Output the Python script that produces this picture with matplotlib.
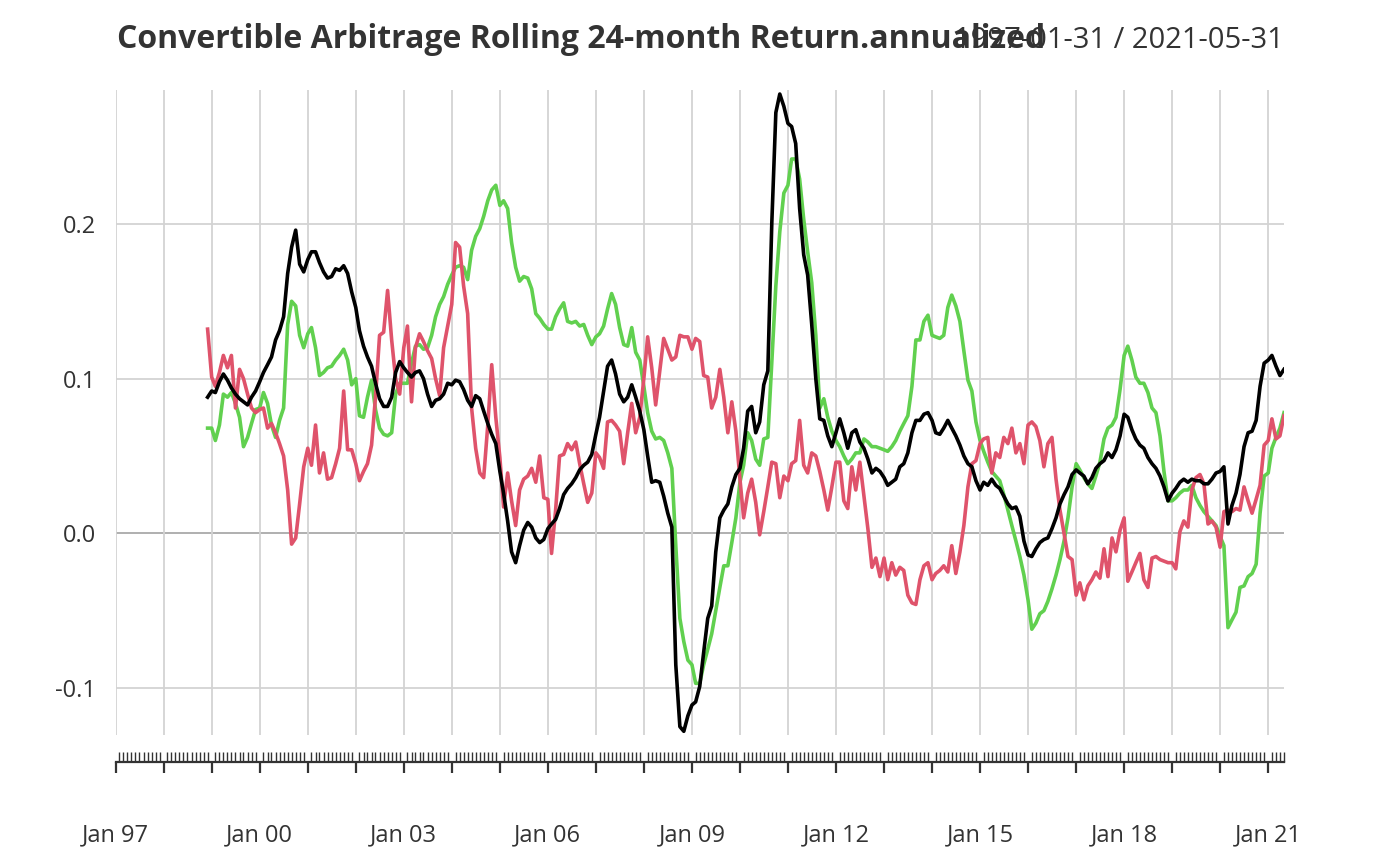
import numpy as np
import pandas as pd
import matplotlib
matplotlib.use('Agg')
import matplotlib.pyplot as plt
from matplotlib.ticker import FixedLocator, FuncFormatter
import matplotlib.dates as mdates

# Retorno anualizado em janela móvel de 24 meses (Dez/1998 a Mai/2021)
convertible_arbitrage = [
    0.088,
    0.092, 0.091, 0.098, 0.103, 0.099, 0.094, 0.090, 0.087, 0.085, 0.083, 0.088, 0.092,  # 1999
    0.098, 0.104, 0.109, 0.114, 0.125, 0.131, 0.140, 0.168, 0.185, 0.196, 0.174, 0.169,  # 2000
    0.177, 0.182, 0.182, 0.175, 0.169, 0.165, 0.166, 0.171, 0.170, 0.173, 0.168, 0.156,  # 2001
    0.146, 0.131, 0.121, 0.114, 0.108, 0.097, 0.087, 0.082, 0.082, 0.088, 0.104, 0.111,  # 2002
    0.107, 0.104, 0.101, 0.104, 0.105, 0.100, 0.090, 0.082, 0.086, 0.087, 0.090, 0.097,  # 2003
    0.096, 0.099, 0.098, 0.093, 0.086, 0.082, 0.089, 0.087, 0.079, 0.071, 0.064, 0.058,  # 2004
    0.040, 0.026, 0.008, -0.012, -0.019, -0.008, 0.002, 0.007, 0.004, -0.003, -0.006, -0.004,  # 2005
    0.003, 0.006, 0.009, 0.016, 0.025, 0.029, 0.032, 0.036, 0.041, 0.044, 0.046, 0.051,  # 2006
    0.064, 0.075, 0.092, 0.108, 0.112, 0.103, 0.090, 0.085, 0.088, 0.096, 0.088, 0.079,  # 2007
    0.067, 0.050, 0.033, 0.034, 0.033, 0.024, 0.013, 0.004, -0.085, -0.125, -0.128, -0.118,  # 2008
    -0.111, -0.109, -0.099, -0.077, -0.055, -0.047, -0.012, 0.010, 0.015, 0.019, 0.030, 0.038,  # 2009
    0.042, 0.055, 0.079, 0.082, 0.065, 0.072, 0.096, 0.105, 0.200, 0.272, 0.284, 0.276,  # 2010
    0.265, 0.263, 0.252, 0.210, 0.180, 0.167, 0.135, 0.100, 0.074, 0.073, 0.063, 0.056,  # 2011
    0.065, 0.074, 0.065, 0.055, 0.065, 0.067, 0.059, 0.055, 0.048, 0.039, 0.042, 0.040,  # 2012
    0.036, 0.031, 0.033, 0.035, 0.043, 0.045, 0.052, 0.065, 0.073, 0.073, 0.077, 0.078,  # 2013
    0.073, 0.065, 0.064, 0.068, 0.073, 0.068, 0.063, 0.057, 0.050, 0.045, 0.043, 0.034,  # 2014
    0.028, 0.033, 0.031, 0.035, 0.031, 0.029, 0.024, 0.019, 0.016, 0.017, 0.011, -0.005,  # 2015
    -0.014, -0.015, -0.010, -0.006, -0.004, -0.003, 0.003, 0.010, 0.019, 0.025, 0.030, 0.038,  # 2016
    0.041, 0.039, 0.037, 0.032, 0.036, 0.042, 0.045, 0.047, 0.052, 0.049, 0.054, 0.063,  # 2017
    0.077, 0.075, 0.067, 0.061, 0.057, 0.055, 0.049, 0.045, 0.042, 0.037, 0.030, 0.021,  # 2018
    0.026, 0.029, 0.033, 0.035, 0.033, 0.035, 0.034, 0.034, 0.032, 0.032, 0.035, 0.039,  # 2019
    0.040, 0.043, 0.006, 0.018, 0.026, 0.038, 0.056, 0.065, 0.066, 0.073, 0.095, 0.110,  # 2020
    0.112, 0.115, 0.108, 0.102, 0.106,  # 2021
]

cta_global = [
    0.132,
    0.101, 0.095, 0.104, 0.115, 0.107, 0.115, 0.081, 0.106, 0.100, 0.090, 0.081, 0.078,  # 1999
    0.080, 0.081, 0.068, 0.071, 0.065, 0.058, 0.050, 0.028, -0.007, -0.003, 0.019, 0.043,  # 2000
    0.055, 0.044, 0.070, 0.039, 0.052, 0.035, 0.036, 0.045, 0.055, 0.092, 0.054, 0.054,  # 2001
    0.045, 0.034, 0.040, 0.045, 0.057, 0.088, 0.128, 0.130, 0.157, 0.125, 0.100, 0.090,  # 2002
    0.120, 0.134, 0.085, 0.120, 0.129, 0.124, 0.118, 0.113, 0.100, 0.089, 0.120, 0.134,  # 2003
    0.148, 0.188, 0.185, 0.160, 0.142, 0.081, 0.055, 0.039, 0.036, 0.070, 0.109, 0.075,  # 2004
    0.049, 0.017, 0.039, 0.021, 0.005, 0.028, 0.035, 0.037, 0.042, 0.033, 0.050, 0.023,  # 2005
    0.022, -0.013, 0.015, 0.050, 0.051, 0.058, 0.054, 0.059, 0.045, 0.032, 0.020, 0.026,  # 2006
    0.052, 0.049, 0.042, 0.072, 0.073, 0.070, 0.066, 0.045, 0.065, 0.084, 0.065, 0.075,  # 2007
    0.100, 0.127, 0.107, 0.083, 0.105, 0.126, 0.119, 0.112, 0.114, 0.128, 0.127, 0.127,  # 2008
    0.119, 0.126, 0.124, 0.102, 0.101, 0.081, 0.088, 0.106, 0.088, 0.065, 0.085, 0.066,  # 2009
    0.035, 0.010, 0.026, 0.035, 0.020, -0.001, 0.014, 0.030, 0.046, 0.045, 0.023, 0.037,  # 2010
    0.034, 0.045, 0.047, 0.073, 0.044, 0.039, 0.052, 0.050, 0.040, 0.028, 0.015, 0.030,  # 2011
    0.046, 0.046, 0.021, 0.016, 0.043, 0.028, 0.046, 0.024, 0.003, -0.022, -0.016, -0.028,  # 2012
    -0.016, -0.030, -0.019, -0.027, -0.022, -0.024, -0.040, -0.045, -0.046, -0.030, -0.021, -0.019,  # 2013
    -0.030, -0.026, -0.024, -0.021, -0.025, -0.008, -0.026, -0.012, 0.005, 0.030, 0.045, 0.047,  # 2014
    0.058, 0.061, 0.062, 0.039, 0.052, 0.049, 0.062, 0.058, 0.068, 0.052, 0.058, 0.045,  # 2015
    0.070, 0.072, 0.069, 0.060, 0.043, 0.058, 0.062, 0.035, 0.015, 0.000, -0.015, -0.017,  # 2016
    -0.040, -0.032, -0.043, -0.034, -0.030, -0.025, -0.029, -0.010, -0.028, -0.003, -0.012, 0.002,  # 2017
    0.010, -0.031, -0.025, -0.019, -0.013, -0.030, -0.035, -0.016, -0.015, -0.017, -0.018, -0.019,  # 2018
    -0.019, -0.023, 0.001, 0.008, 0.004, 0.028, 0.036, 0.038, 0.032, 0.006, 0.008, 0.004,  # 2019
    -0.009, 0.014, 0.015, 0.014, 0.016, 0.015, 0.030, 0.021, 0.013, 0.022, 0.031, 0.057,  # 2020
    0.060, 0.074, 0.061, 0.063, 0.076,  # 2021
]

distressed = [
    0.068,
    0.068, 0.060, 0.070, 0.090, 0.088, 0.091, 0.084, 0.075, 0.056, 0.062, 0.071, 0.080,  # 1999
    0.081, 0.091, 0.084, 0.070, 0.062, 0.073, 0.081, 0.135, 0.150, 0.147, 0.128, 0.120,  # 2000
    0.129, 0.133, 0.120, 0.102, 0.104, 0.107, 0.108, 0.112, 0.115, 0.119, 0.112, 0.096,  # 2001
    0.100, 0.076, 0.075, 0.088, 0.099, 0.080, 0.068, 0.064, 0.063, 0.065, 0.090, 0.097,  # 2002
    0.097, 0.097, 0.110, 0.121, 0.122, 0.119, 0.120, 0.128, 0.140, 0.148, 0.153, 0.161,  # 2003
    0.167, 0.172, 0.173, 0.172, 0.164, 0.183, 0.192, 0.197, 0.205, 0.215, 0.222, 0.225,  # 2004
    0.212, 0.215, 0.210, 0.188, 0.172, 0.163, 0.166, 0.165, 0.158, 0.142, 0.139, 0.135,  # 2005
    0.132, 0.132, 0.140, 0.145, 0.149, 0.137, 0.136, 0.137, 0.134, 0.135, 0.128, 0.122,  # 2006
    0.127, 0.129, 0.134, 0.145, 0.155, 0.148, 0.133, 0.122, 0.121, 0.133, 0.117, 0.112,  # 2007
    0.095, 0.078, 0.066, 0.061, 0.062, 0.060, 0.052, 0.042, -0.008, -0.055, -0.070, -0.082,  # 2008
    -0.085, -0.097, -0.097, -0.085, -0.075, -0.065, -0.050, -0.035, -0.021, -0.021, -0.006, 0.010,  # 2009
    0.033, 0.044, 0.065, 0.060, 0.048, 0.044, 0.061, 0.062, 0.110, 0.160, 0.195, 0.220,  # 2010
    0.225, 0.242, 0.242, 0.229, 0.203, 0.182, 0.162, 0.128, 0.081, 0.087, 0.075, 0.066,  # 2011
    0.060, 0.056, 0.050, 0.045, 0.048, 0.052, 0.052, 0.061, 0.059, 0.056, 0.056, 0.055,  # 2012
    0.054, 0.053, 0.056, 0.060, 0.066, 0.071, 0.076, 0.095, 0.125, 0.125, 0.137, 0.141,  # 2013
    0.128, 0.127, 0.126, 0.128, 0.146, 0.154, 0.147, 0.137, 0.118, 0.099, 0.092, 0.072,  # 2014
    0.060, 0.053, 0.046, 0.040, 0.037, 0.034, 0.025, 0.015, 0.005, -0.005, -0.015, -0.027,  # 2015
    -0.043, -0.062, -0.058, -0.052, -0.050, -0.044, -0.036, -0.027, -0.017, -0.005, 0.010, 0.030,  # 2016
    0.045, 0.041, 0.036, 0.032, 0.029, 0.037, 0.046, 0.061, 0.068, 0.070, 0.075, 0.093,  # 2017
    0.115, 0.121, 0.112, 0.101, 0.097, 0.097, 0.091, 0.081, 0.078, 0.063, 0.040, 0.021,  # 2018
    0.021, 0.023, 0.026, 0.028, 0.028, 0.031, 0.023, 0.018, 0.014, 0.011, 0.008, 0.005,  # 2019
    -0.002, -0.008, -0.061, -0.056, -0.051, -0.035, -0.034, -0.028, -0.026, -0.020, 0.013, 0.037,  # 2020
    0.039, 0.055, 0.062, 0.068, 0.078,  # 2021
]

cores = {'preto': '#000000', 'vermelho': '#DF536B', 'verde': '#61D04F'}
ticks_y = [-0.1, 0.0, 0.1, 0.2]
titulo = 'Convertible Arbitrage Rolling 24-month Return.annualized'
periodo = '1997-01-31 / 2021-05-31'

plt.rcParams['font.family'] = ['Open Sans', 'DejaVu Sans']

datas = pd.date_range('1998-12-31', periods=len(convertible_arbitrage), freq='ME')
inicio = pd.Timestamp('1997-01-31')
fim = pd.Timestamp('2021-05-31')
anos = [pd.Timestamp(f'{a}-01-31') for a in range(1997, 2022)]
meses = pd.date_range(inicio, fim, freq='ME')

fig = plt.figure(figsize=(14, 8.66), dpi=100)
ax = fig.add_axes([115.7 / 1400, 1 - 735 / 866, (1284 - 115.7) / 1400, (735 - 90) / 866])

# Grade
for y in ticks_y:
    ax.axhline(y, color='#a9a9a9' if y == 0 else '#d3d3d3', lw=1.3, zorder=1)
for d in anos:
    ax.axvline(d, color='#d3d3d3', lw=1.3, zorder=1)

# Séries
ax.plot(datas, distressed, color=cores['verde'], lw=2.6, zorder=3)
ax.plot(datas, cta_global, color=cores['vermelho'], lw=2.6, zorder=3)
ax.plot(datas, convertible_arbitrage, color=cores['preto'], lw=2.6, zorder=4)

ax.set_xlim(inicio, fim)
ax.set_ylim(-0.1304, 0.2866)

# Eixo y
ax.set_yticks(ticks_y)
ax.set_yticklabels([f'{v:.1f}' for v in ticks_y])
ax.tick_params(axis='y', length=0, pad=14, labelsize=17, labelcolor='#333333')

# Eixo x
ax.xaxis.set_major_locator(FixedLocator(mdates.date2num(anos)))
ax.xaxis.set_minor_locator(FixedLocator(mdates.date2num(meses)))
ax.xaxis.set_major_formatter(FuncFormatter(
    lambda v, p: mdates.num2date(v).strftime('%b %y') if (mdates.num2date(v).year - 1997) % 3 == 0 else ''))
ax.tick_params(axis='x', which='major', direction='out', length=8, width=1.6,
               color='#333333', pad=36, labelsize=17, labelcolor='#333333')
ax.tick_params(axis='x', which='minor', direction='in', length=7, width=1.0, color='#333333')

for lado in ['left', 'right', 'top']:
    ax.spines[lado].set_visible(False)
ax.spines['bottom'].set_position(('outward', 19.5))
ax.spines['bottom'].set_color('#333333')
ax.spines['bottom'].set_linewidth(1.6)

fig.text(117 / 1400, 1 - 48 / 866, titulo, fontsize=23, fontweight='bold', color='#333333', va='baseline')
fig.text(1284 / 1400, 1 - 48 / 866, periodo, fontsize=21, color='#333333', va='baseline', ha='right')

fig.savefig('out.png', dpi=100)
